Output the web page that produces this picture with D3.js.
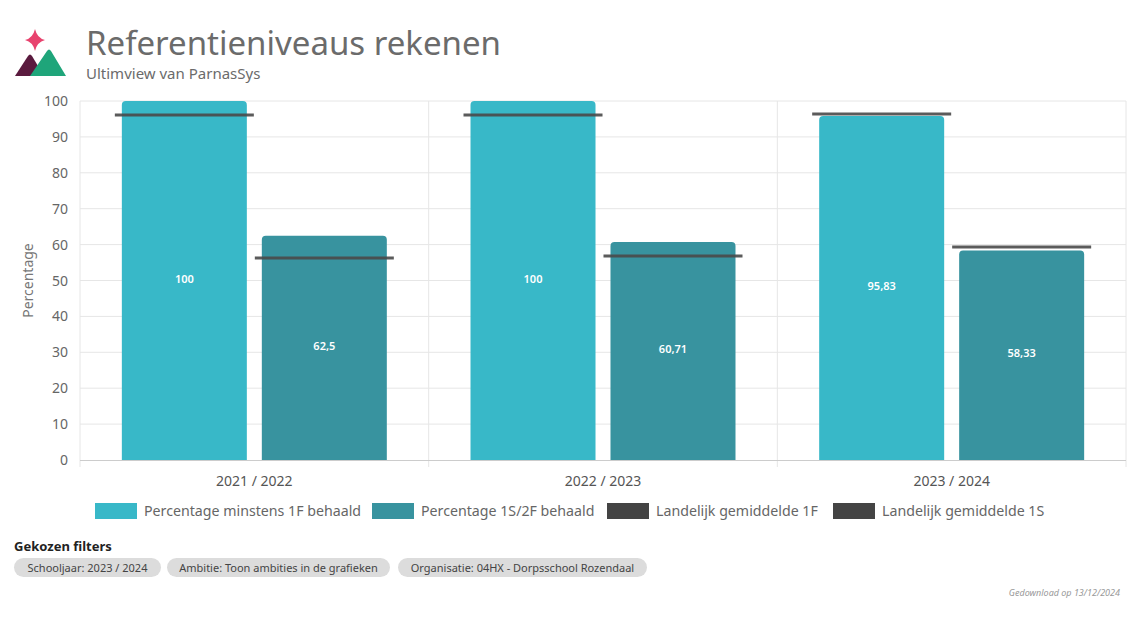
<!DOCTYPE html>
<html><head><meta charset="utf-8">
<script src="https://cdn.jsdelivr.net/npm/d3@7"></script>
<style>
body{margin:0;background:#fff;}
svg{display:block;font-family:"Noto Sans","Open Sans",sans-serif;}
</style></head><body>
<svg id="c" width="1140" height="618"></svg>
<script>
const categories = ["2021 / 2022", "2022 / 2023", "2023 / 2024"];
const series1F = [100, 100, 95.83];
const series1S = [62.5, 60.71, 58.33];
const landelijk1F = [96.1, 96.1, 96.4];
const landelijk1S = [56.3, 56.8, 59.3];
const yTicks = [0,10,20,30,40,50,60,70,80,90,100];
const legendLabels = ["Percentage minstens 1F behaald","Percentage 1S/2F behaald","Landelijk gemiddelde 1F","Landelijk gemiddelde 1S"];
const filters = ["Schooljaar: 2023 / 2024","Ambitie: Toon ambities in de grafieken","Organisatie: 04HX - Dorpsschool Rozendaal"];
const fmt = v => String(v).replace(".", ",");

const col1 = "#38b8c8", col2 = "#38939f", colLine = "#4a4a4a";
const svg = d3.select("#c");
const L = 80, R = 1126, T = 101, B = 460;

// logo
const logo = svg.append("g");
logo.append("path").attr("d","M35,29 Q37,38 45,40 Q37,42 35,51 Q33,42 25,40 Q33,38 35,29 Z").attr("fill","#e8436e");
logo.append("path").attr("d","M15,76 L28,56 Q30,53 32,56 L44,76 Z").attr("fill","#5a1a3e");
logo.append("path").attr("d","M30,76 L47,51 Q49,48 51,51 L66,76 Z").attr("fill","#1fa57a");

svg.append("text").attr("x",86).attr("y",55).attr("font-size",33).attr("fill","#6b6b6b").text("Referentieniveaus rekenen");
svg.append("text").attr("x",86).attr("y",79).attr("font-size",15).attr("fill","#6b6b6b").text("Ultimview van ParnasSys");

const x = d3.scaleBand().domain(categories).range([L,R]);
const y = d3.scaleLinear().domain([0,100]).range([B,T]);
const bw = x.bandwidth();
const inner = d3.scaleBand().domain(["a","b"]).range([bw*0.12, bw*0.88]).paddingInner(0.107);

// grid
svg.append("g").selectAll("line").data(yTicks.slice(1)).join("line")
  .attr("x1",L).attr("x2",R).attr("y1",d=>y(d)).attr("y2",d=>y(d)).attr("stroke","#e6e6e6");
svg.append("g").selectAll("line").data(d3.range(categories.length+1)).join("line")
  .attr("x1",d=>L+d*bw).attr("x2",d=>L+d*bw).attr("y1",T).attr("y2",B+7).attr("stroke","#e6e6e6");

// y labels
svg.append("g").selectAll("text").data(yTicks).join("text")
  .attr("x",68).attr("y",d=>y(d)+5).attr("text-anchor","end").attr("font-size",14).attr("fill","#666").text(d=>d);
svg.append("text").attr("transform",`translate(33,${(T+B)/2}) rotate(-90)`).attr("text-anchor","middle")
  .attr("font-size",14).attr("fill","#777").text("Percentage");

// bars
function roundTop(x0,y0,w,h,r){
  r=Math.min(r,h);
  return `M${x0},${y0+h}V${y0+r}Q${x0},${y0} ${x0+r},${y0}H${x0+w-r}Q${x0+w},${y0} ${x0+w},${y0+r}V${y0+h}Z`;
}
const groups = [{key:"a",vals:series1F,col:col1},{key:"b",vals:series1S,col:col2}];
groups.forEach(g=>{
  svg.append("g").selectAll("path").data(categories).join("path")
    .attr("d",(c,i)=>roundTop(x(c)+inner(g.key), y(g.vals[i]), inner.bandwidth(), B-y(g.vals[i]), 4))
    .attr("fill",g.col);
  svg.append("g").selectAll("text").data(categories).join("text")
    .attr("x",c=>x(c)+inner(g.key)+inner.bandwidth()/2)
    .attr("y",(c,i)=>(y(g.vals[i])+B)/2+2)
    .attr("text-anchor","middle").attr("font-size",11).attr("font-weight","600").attr("fill","#fff")
    .text((c,i)=>fmt(g.vals[i]));
});
// reference lines
[{key:"a",vals:landelijk1F},{key:"b",vals:landelijk1S}].forEach(g=>{
  svg.append("g").selectAll("line").data(categories).join("line")
    .attr("x1",c=>x(c)+inner(g.key)-7).attr("x2",c=>x(c)+inner(g.key)+inner.bandwidth()+7)
    .attr("y1",(c,i)=>y(g.vals[i])).attr("y2",(c,i)=>y(g.vals[i]))
    .attr("stroke",colLine).attr("stroke-width",3).attr("opacity",0.9);
});

// x axis
svg.append("line").attr("x1",L).attr("x2",R).attr("y1",B+0.5).attr("y2",B+0.5).attr("stroke","#ccc");
svg.append("g").selectAll("text").data(categories).join("text")
  .attr("x",c=>x(c)+bw/2).attr("y",486).attr("text-anchor","middle").attr("font-size",14).attr("fill","#555").text(c=>c);

// legend
const legX = [95,372,607,833];
const legCols = [col1,col2,"#444","#444"];
const lg = svg.append("g").selectAll("g").data(legendLabels).join("g").attr("transform",(d,i)=>`translate(${legX[i]},503)`);
lg.append("rect").attr("width",42).attr("height",16).attr("fill",(d,i)=>legCols[i]);
lg.append("text").attr("x",49).attr("y",13).attr("font-size",14.2).attr("fill","#666").text(d=>d);

// filters
svg.append("text").attr("x",14).attr("y",551).attr("font-size",13).attr("font-weight","bold").attr("fill","#222").text("Gekozen filters");
const pillX = [14,167,398], pillW = [147,223,249];
const pg = svg.append("g").selectAll("g").data(filters).join("g").attr("transform",(d,i)=>`translate(${pillX[i]},558)`);
pg.append("rect").attr("width",(d,i)=>pillW[i]).attr("height",19).attr("rx",9.5).attr("fill","#dcdcdc");
pg.append("text").attr("x",(d,i)=>pillW[i]/2).attr("y",13.5).attr("text-anchor","middle").attr("font-size",11).attr("fill","#444").text(d=>d);

svg.append("text").attr("x",1120).attr("y",596).attr("text-anchor","end").attr("font-size",9).attr("font-style","italic").attr("fill","#999").text("Gedownload op 13/12/2024");
</script></body></html>
